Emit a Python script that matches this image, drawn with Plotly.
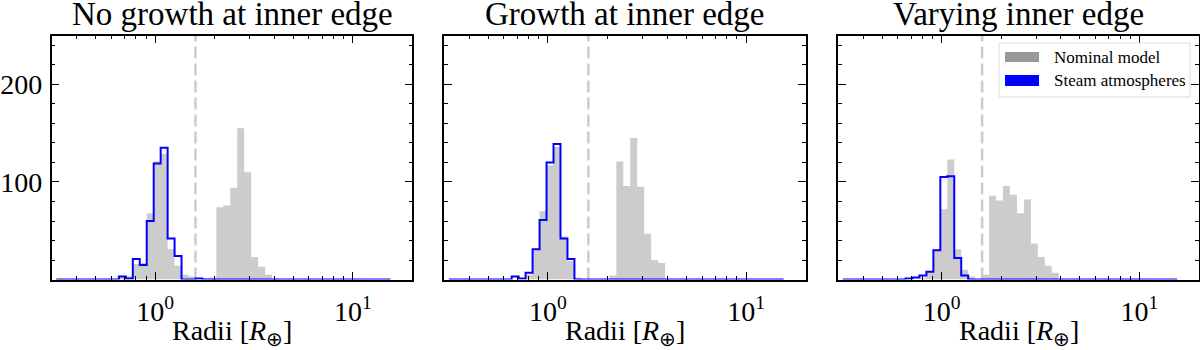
import plotly.graph_objects as go
import numpy as np

# log-spaced histogram bins (48 bins)
bin_edges = np.logspace(-0.5, 1.19, 49)

panel_titles = ["No growth at inner edge", "Growth at inner edge", "Varying inner edge"]
inner_edge = [1.6, 1.6, 1.6]

# counts per bin
nominal_no_growth = [0, 0, 0, 0, 0, 0, 0, 0, 0, 2, 3, 16, 17, 68, 121, 129, 31, 14, 5, 3, 1, 1, 2, 74,
                     76, 94, 155, 110, 23, 13, 5, 1, 0, 0, 0, 0, 0, 0, 0, 0, 0, 0, 0, 0, 0, 0, 0, 0]
steam_no_growth = [0, 0, 0, 0, 0, 0, 0, 0, 0, 3, 1, 21, 15, 60, 119, 135, 42, 24, 0, 0, 1, 0, 0, 0,
                   0, 0, 0, 0, 0, 0, 0, 0, 0, 0, 0, 0, 0, 0, 0, 0, 0, 0, 0, 0, 0, 0, 0, 0]
nominal_growth = [0, 0, 0, 0, 0, 0, 0, 0, 0, 0, 1, 5, 30, 70, 117, 136, 44, 19, 2, 0, 0, 0, 0, 4,
                  121, 96, 145, 95, 47, 20, 17, 0, 0, 0, 0, 0, 0, 0, 0, 0, 0, 0, 0, 0, 0, 0, 0, 0]
steam_growth = [0, 0, 0, 0, 0, 0, 0, 0, 0, 3, 1, 7, 31, 61, 120, 139, 42, 21, 0, 0, 0, 0, 0, 0,
                0, 0, 0, 0, 0, 0, 0, 0, 0, 0, 0, 0, 0, 0, 0, 0, 0, 0, 0, 0, 0, 0, 0, 0]
nominal_varying = [0, 0, 0, 0, 0, 0, 0, 0, 0, 0, 0, 2, 9, 31, 72, 123, 31, 10, 3, 0, 5, 86, 81, 96,
                   87, 68, 82, 37, 23, 14, 7, 0, 0, 0, 0, 0, 0, 0, 0, 0, 0, 0, 0, 0, 0, 0, 0, 0]
steam_varying = [0, 0, 0, 0, 0, 0, 0, 0, 0, 1, 2, 4, 8, 30, 105, 106, 22, 4, 0, 0, 0, 0, 0, 0,
                 0, 0, 0, 0, 0, 0, 0, 0, 0, 0, 0, 0, 0, 0, 0, 0, 0, 0, 0, 0, 0, 0, 0, 0]

nominal = [nominal_no_growth, nominal_growth, nominal_varying]
steam = [steam_no_growth, steam_growth, steam_varying]

y_max = 250
FONT = "Liberation Serif, Times New Roman, serif"
GRAY = "#cccccc"
BLUE = "#0000ff"


def step_xy(counts):
    # outline of a matplotlib-style step histogram
    x = [bin_edges[0]] + list(bin_edges[:-1]) + [bin_edges[-1], bin_edges[-1]]
    y = [0] + list(counts) + [counts[-1], 0]
    return x, y


fig = go.Figure()

x_domains = [[0.0431, 0.3436], [0.3703, 0.6714], [0.6986, 0.9992]]
y_domain = [0.2014, 0.898]
minor_x = [0.3, 0.4, 0.5, 0.6, 0.7, 0.8, 0.9, 2, 3, 4, 5, 6, 7, 8, 9, 20]
minor_y = [20, 40, 60, 80, 120, 140, 160, 180, 220, 240]

for i in range(3):
    xa = "x" if i == 0 else f"x{i+1}"
    ya = "y" if i == 0 else f"y{i+1}"

    gx, gy = step_xy(nominal[i])
    fig.add_trace(go.Scatter(x=gx, y=gy, mode="lines", line=dict(width=0, shape="hv"),
                             fill="tozeroy", fillcolor=GRAY, xaxis=xa, yaxis=ya,
                             hoverinfo="skip"))
    fig.add_trace(go.Scatter(x=[inner_edge[i], inner_edge[i]], y=[0, y_max], mode="lines",
                             line=dict(color="#cccccc", width=2.5, dash="12px,5px"),
                             xaxis=xa, yaxis=ya, hoverinfo="skip"))
    bx, by = step_xy(steam[i])
    fig.add_trace(go.Scatter(x=bx, y=by, mode="lines", line=dict(color=BLUE, width=2, shape="hv"),
                             xaxis=xa, yaxis=ya, hoverinfo="skip"))

    axis_common = dict(showline=True, linecolor="black", linewidth=1.5, mirror="ticks",
                       ticks="inside", ticklen=8, tickwidth=1.2, tickcolor="black",
                       showgrid=False, zeroline=False, automargin=False,
                       tickfont=dict(family=FONT, size=28, color="black"))
    fig.layout[f"xaxis{'' if i == 0 else i+1}"] = dict(
        axis_common, type="log", domain=x_domains[i], anchor=ya,
        range=[np.log10(0.3), np.log10(20)], ticklabelstandoff=6,
        tickvals=[1, 10], ticktext=["10<sup>0</sup>", "10<sup>1</sup>"],
        minor=dict(ticks="inside", ticklen=4, tickwidth=1, tickcolor="black",
                   tickvals=minor_x, showgrid=False))
    fig.layout[f"yaxis{'' if i == 0 else i+1}"] = dict(
        axis_common, domain=y_domain, anchor=xa, range=[0, y_max],
        tickvals=[100, 200], showticklabels=(i == 0), ticklabelstandoff=2,
        minor=dict(ticks="inside", ticklen=4, tickwidth=1, tickcolor="black",
                   tickvals=minor_y, showgrid=False))

    fig.add_annotation(text=panel_titles[i], xref=f"{xa} domain", x=0.5, yref="paper",
                       y=1 - 34 / 350, yanchor="bottom", showarrow=False,
                       font=dict(family=FONT, size=33, color="black"))
    fig.add_annotation(text="Radii [<i>R</i><sub>⊕</sub>]", xref=f"{xa} domain", x=0.5,
                       yref="paper", y=1 - 332 / 350, yanchor="middle", showarrow=False,
                       font=dict(family=FONT, size=28, color="black"))

# legend in the third panel
fig.add_shape(type="rect", xref="x3 domain", yref="y3 domain", x0=0.4455, x1=0.975,
              y0=0.7486, y1=0.970, line=dict(color="#dddddd", width=1),
              fillcolor="rgba(255,255,255,0.8)")
fig.add_shape(type="rect", xref="x3 domain", yref="y3 domain", x0=0.4621, x1=0.5564,
              y0=0.892, y1=0.933, line=dict(width=0), fillcolor="#999999")
fig.add_shape(type="rect", xref="x3 domain", yref="y3 domain", x0=0.4621, x1=0.5564,
              y0=0.794, y1=0.839, line=dict(width=0), fillcolor=BLUE)
for label, yy in [("Nominal model", 0.911), ("Steam atmospheres", 0.815)]:
    fig.add_annotation(text=label, xref="x3 domain", yref="y3 domain", x=0.592, y=yy,
                       xanchor="left", yanchor="middle", showarrow=False,
                       font=dict(family=FONT, size=17, color="black"))

fig.update_layout(width=1200, height=350, margin=dict(l=0, r=0, t=0, b=0),
                  plot_bgcolor="white", paper_bgcolor="white", showlegend=False)

# the page body has a default 8px margin; drop it so the figure fills the window
fig.write_html("out.html", config={"displayModeBar": False},
               post_script="document.body.style.margin = '0px';")
